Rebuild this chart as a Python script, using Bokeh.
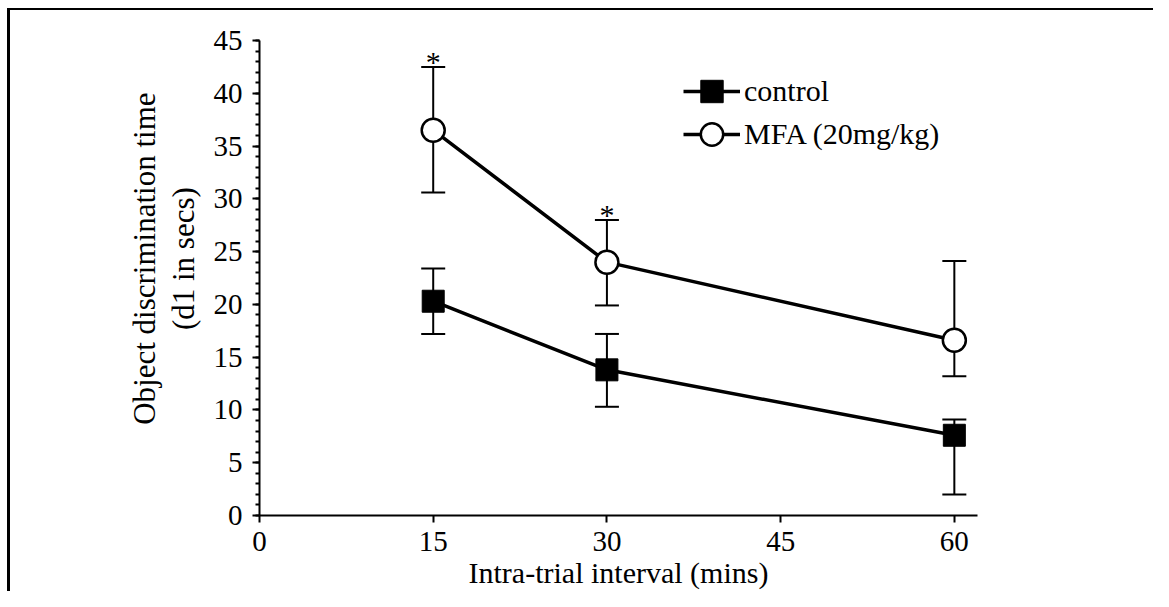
from bokeh.plotting import figure
from bokeh.models import (Range1d, FixedTicker, SingleIntervalTicker, Whisker, TeeHead,
                          ColumnDataSource, Legend, LegendItem)
from bokeh.core.properties import value
from bokeh.embed import file_html
from bokeh.resources import INLINE

# ---- data ----
intervals = [15, 30, 60]
control_mean = [20.3, 13.8, 7.6]
control_lo = [17.2, 10.3, 2.0]
control_hi = [23.4, 17.2, 9.1]
mfa_mean = [36.5, 24.0, 16.6]
mfa_lo = [30.6, 19.9, 13.2]
mfa_hi = [42.5, 28.0, 24.1]
sig_x = [15, 30]
sig_y = [42.5, 28.0]
sig_label = ["*", "*"]
x_ticks = [0, 15, 30, 45, 60]
series_names = ["control", "MFA (20mg/kg)"]

FONT = "Liberation Serif"
NB = "\u00a0" * 5  # nudges the centred y title slightly upwards, as in the original

p = figure(width=1153, height=591, output_backend="svg", toolbar_location=None,
           x_range=Range1d(0, 62), y_range=Range1d(0, 45),
           min_border_left=259, min_border_right=176, min_border_top=40, min_border_bottom=75)
# scanned-figure frame: top and left rules only
p.styles = {"background": "linear-gradient(#000,#000) 7px 8px / 100% 2px no-repeat, "
                          "linear-gradient(#000,#000) 7px 8px / 3px 100% no-repeat, #fff"}
p.border_fill_alpha = 0
p.outline_line_color = None
p.grid.grid_line_color = None
p.background_fill_color = "white"

# axes
p.xaxis.ticker = FixedTicker(ticks=x_ticks)
p.yaxis.ticker = SingleIntervalTicker(interval=5, num_minor_ticks=5)
p.xaxis.minor_tick_line_color = None
for ax in (p.xaxis, p.yaxis):
    ax.axis_line_width = 2
    ax.axis_line_color = "black"
    ax.major_tick_line_width = 2
    ax.major_tick_line_color = "black"
    ax.major_tick_in = 0
    ax.major_tick_out = 7
    ax.major_label_text_font = FONT
    ax.major_label_text_font_size = "29px"
    ax.major_label_text_color = "black"
    ax.axis_label_text_font = FONT
    ax.axis_label_text_font_style = "normal"
    ax.axis_label_text_color = "black"
p.xaxis.axis_label_text_font_size = "30px"
p.yaxis.axis_label_text_font_size = "31px"
p.yaxis.axis_label_text_line_height = 1.1
p.yaxis.minor_tick_line_width = 2
p.yaxis.minor_tick_line_color = "black"
p.yaxis.minor_tick_in = 0
p.yaxis.minor_tick_out = 4
p.yaxis.major_label_standoff = 10
p.xaxis.major_label_standoff = 9
p.xaxis.axis_label = "Intra-trial interval (mins)"
p.yaxis.axis_label = NB + "Object discrimination time\n" + NB + "(d1 in secs)"
p.xaxis.axis_label_standoff = 2
p.yaxis.axis_label_standoff = 10

# error bars
src_c = ColumnDataSource(dict(x=intervals, y=control_mean, lo=control_lo, hi=control_hi))
src_m = ColumnDataSource(dict(x=intervals, y=mfa_mean, lo=mfa_lo, hi=mfa_hi))
for src in (src_m, src_c):
    w = Whisker(source=src, base="x", lower="lo", upper="hi", line_width=2, line_color="black",
                upper_head=TeeHead(size=24, line_width=2, line_color="black"),
                lower_head=TeeHead(size=24, line_width=2, line_color="black"))
    p.add_layout(w)

lc = p.line("x", "y", source=src_c, line_width=3.5, line_color="black")
lm = p.line("x", "y", source=src_m, line_width=3.5, line_color="black")
sc = p.scatter("x", "y", source=src_c, marker="square", size=22, fill_color="black",
               line_color="black", line_width=1)
sm = p.scatter("x", "y", source=src_m, marker="circle", size=23, fill_color="white",
               line_color="black", line_width=2.5)

p.text(x=sig_x, y=sig_y, text=sig_label, text_font=value(FONT), text_font_size="30px",
       text_align="center", text_baseline="alphabetic", y_offset=-5, text_color="black")

# one legend box per row so that the rows sit as close as in the original
for name, rends, loc in ((series_names[0], [lc, sc], (424, 396)),
                         (series_names[1], [lm, sm], (424, 353))):
    lg = Legend(items=[LegendItem(label=name, renderers=rends)],
                location=loc, glyph_width=57, glyph_height=56, label_height=56,
                spacing=0, padding=0, margin=0, label_standoff=4,
                border_line_color=None, background_fill_alpha=0,
                label_text_font=FONT, label_text_font_size="30px", label_text_color="black")
    p.add_layout(lg)

open("out.html", "w").write(file_html(p, INLINE))
